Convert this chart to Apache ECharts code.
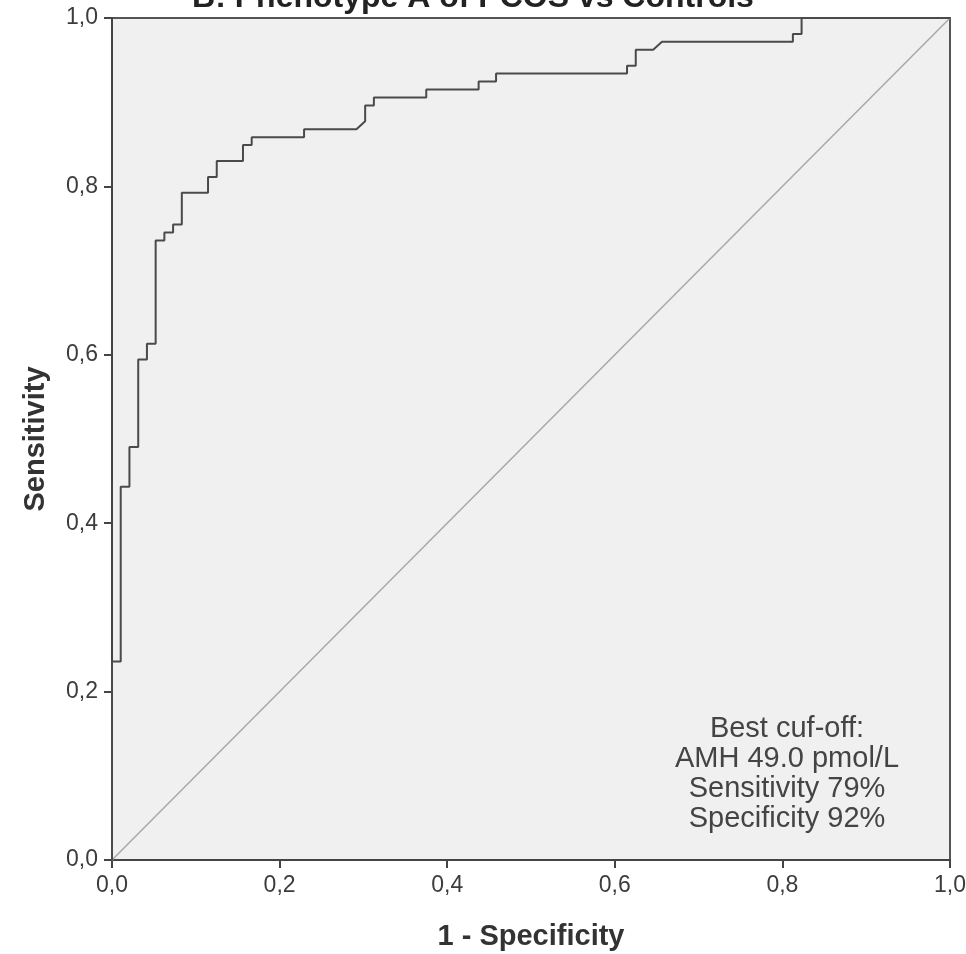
<!DOCTYPE html>
<html>
<head>
<meta charset="utf-8">
<script src="https://cdn.jsdelivr.net/npm/echarts@6/dist/echarts.min.js"></script>
<style>
  html, body { margin: 0; padding: 0; background: #fff; }
  #roc { width: 966px; height: 954px; }
</style>
</head>
<body>
<div id="roc"></div>
<script>
// ROC curve vertices (1 - specificity, sensitivity)
var fpr = [0, 0, 0.0104, 0.0104, 0.0208, 0.0208, 0.0313, 0.0313, 0.0417, 0.0417,
  0.0521, 0.0521, 0.0625, 0.0625, 0.0729, 0.0729, 0.0833, 0.0833, 0.1146, 0.1146,
  0.125, 0.125, 0.1563, 0.1563, 0.1667, 0.1667, 0.2292, 0.2292, 0.2917, 0.3021,
  0.3021, 0.3125, 0.3125, 0.375, 0.375, 0.4375, 0.4375, 0.4583, 0.4583, 0.6146,
  0.6146, 0.625, 0.625, 0.6458, 0.6563, 0.8125, 0.8125, 0.8229, 0.8229, 1];
var tpr = [0, 0.2358, 0.2358, 0.4434, 0.4434, 0.4906, 0.4906, 0.5943, 0.5943, 0.6132,
  0.6132, 0.7358, 0.7358, 0.7453, 0.7453, 0.7547, 0.7547, 0.7925, 0.7925, 0.8113,
  0.8113, 0.8302, 0.8302, 0.8491, 0.8491, 0.8585, 0.8585, 0.8679, 0.8679, 0.8774,
  0.8962, 0.8962, 0.9057, 0.9057, 0.9151, 0.9151, 0.9245, 0.9245, 0.934, 0.934,
  0.9434, 0.9434, 0.9623, 0.9623, 0.9717, 0.9717, 0.9811, 0.9811, 1, 1];
var refLine = [[0, 0], [1, 1]];
var noteLines = ['Best cuf-off:', 'AMH 49.0 pmol/L', 'Sensitivity 79%', 'Specificity 92%'];

var curve = fpr.map(function (x, i) { return [x, tpr[i]]; });
var fmt = function (v) { return v.toFixed(1).replace('.', ','); };
var font = 'Liberation Sans, Arial, sans-serif';

var chart = echarts.init(document.getElementById('roc'));
chart.setOption({
  animation: false,
  backgroundColor: '#fff',
  grid: {
    left: 112, right: 16, top: 18, bottom: 94,
    outerBoundsMode: 'none', containLabel: false,
    show: true, backgroundColor: '#f0f0f0',
    borderColor: '#555', borderWidth: 2
  },
  xAxis: {
    type: 'value', min: 0, max: 1, interval: 0.2,
    name: '1 - Specificity', nameLocation: 'middle', nameGap: 62,
    nameTextStyle: { fontFamily: font, fontSize: 29, fontWeight: 'bold', color: '#333' },
    axisLine: { lineStyle: { color: '#444', width: 2 } },
    axisTick: { show: true, length: 8, lineStyle: { color: '#444', width: 2 } },
    axisLabel: { formatter: fmt, fontFamily: font, fontSize: 23, color: '#3c3c3c', margin: 14 },
    splitLine: { show: false }
  },
  yAxis: {
    type: 'value', min: 0, max: 1, interval: 0.2,
    name: 'Sensitivity', nameLocation: 'middle', nameGap: 62,
    nameTextStyle: { fontFamily: font, fontSize: 29, fontWeight: 'bold', color: '#333' },
    axisLine: { show: true, lineStyle: { color: '#444', width: 2 } },
    axisTick: { show: true, length: 8, lineStyle: { color: '#444', width: 2 } },
    axisLabel: { formatter: fmt, fontFamily: font, fontSize: 23, color: '#3c3c3c', margin: 14 },
    splitLine: { show: false }
  },
  series: [
    {
      type: 'line', data: refLine, symbol: 'none', silent: true,
      lineStyle: { color: '#a8a8a8', width: 1.5 }
    },
    {
      type: 'line', data: curve, symbol: 'none',
      lineStyle: { color: '#4a4a4a', width: 2 }
    }
  ],
  graphic: [
    {
      type: 'text', x: 473, y: 14,
      style: {
        text: 'B: Phenotype A of PCOS vs Controls', textAlign: 'center', textVerticalAlign: 'bottom',
        font: 'bold 32px ' + font, fill: '#222'
      }
    },
    {
      type: 'text', x: 787, y: 714,
      style: {
        text: noteLines.join('\n'), textAlign: 'center', textVerticalAlign: 'top',
        font: '29px ' + font, lineHeight: 30, fill: '#444'
      }
    }
  ]
});
</script>
</body>
</html>
